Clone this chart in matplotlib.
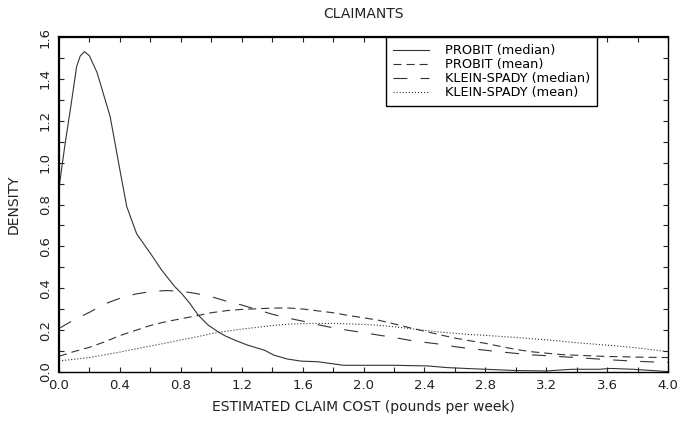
import matplotlib
matplotlib.use('Agg')
import matplotlib.pyplot as plt
from matplotlib.ticker import MultipleLocator

# PROBIT (median): solid line, own x grid (sharp peak near zero)
probit_med_x = [0.0, 0.04, 0.08, 0.116, 0.14, 0.167, 0.2, 0.25, 0.336, 0.40, 0.445,
                0.51, 0.6, 0.673, 0.76, 0.804, 0.859, 0.914, 0.98, 1.045, 1.09,
                1.155, 1.24, 1.35, 1.41, 1.5, 1.59, 1.70, 1.78, 1.87, 1.98, 2.2,
                2.42, 2.55, 2.7, 2.8, 3.0, 3.2, 3.37, 3.55, 3.62, 3.77, 4.0]
probit_med_y = [0.88, 1.09, 1.28, 1.46, 1.51, 1.53, 1.51, 1.43, 1.22, 0.965, 0.79,
                0.66, 0.567, 0.488, 0.408, 0.376, 0.328, 0.272, 0.224, 0.192, 0.173,
                0.152, 0.128, 0.104, 0.081, 0.062, 0.052, 0.049, 0.041, 0.032, 0.032, 0.032,
                0.029, 0.021, 0.016, 0.013, 0.007, 0.005, 0.013, 0.013, 0.017, 0.013, 0.002]

# the other three curves share one grid
grid_x = [0.0, 0.1, 0.2, 0.3, 0.4, 0.5, 0.6, 0.7, 0.8, 0.9, 1.0, 1.1, 1.2, 1.3,
          1.4, 1.5, 1.6, 1.7, 1.8, 1.9, 2.0, 2.1, 2.2, 2.3, 2.4, 2.5, 2.6, 2.7,
          2.8, 2.9, 3.0, 3.1, 3.2, 3.3, 3.4, 3.5, 3.6, 3.7, 3.8, 3.9, 4.0]
probit_mean_y = [0.075, 0.098, 0.118, 0.144, 0.174, 0.198, 0.222, 0.24, 0.254, 0.268,
                 0.283, 0.293, 0.299, 0.302, 0.305, 0.306, 0.301, 0.292, 0.283, 0.27,
                 0.259, 0.247, 0.23, 0.212, 0.195, 0.178, 0.162, 0.149, 0.137, 0.122,
                 0.108, 0.097, 0.09, 0.083, 0.08, 0.077, 0.074, 0.073, 0.071, 0.07, 0.069]
ks_med_y = [0.208, 0.25, 0.285, 0.325, 0.352, 0.372, 0.384, 0.389, 0.386, 0.375,
            0.36, 0.338, 0.32, 0.298, 0.276, 0.258, 0.243, 0.226, 0.211, 0.199,
            0.188, 0.176, 0.165, 0.152, 0.142, 0.133, 0.121, 0.112, 0.104, 0.096,
            0.089, 0.082, 0.078, 0.073, 0.069, 0.064, 0.059, 0.055, 0.051, 0.048, 0.046]
ks_mean_y = [0.053, 0.061, 0.069, 0.082, 0.095, 0.11, 0.124, 0.138, 0.153, 0.167,
             0.183, 0.195, 0.205, 0.213, 0.222, 0.228, 0.231, 0.232, 0.232, 0.23,
             0.227, 0.223, 0.216, 0.208, 0.199, 0.191, 0.185, 0.179, 0.175, 0.17,
             0.165, 0.159, 0.154, 0.147, 0.14, 0.134, 0.128, 0.122, 0.115, 0.106, 0.097]

plt.rcParams['font.family'] = ['DejaVu Sans']
plt.rcParams['lines.scale_dashes'] = False

fig = plt.figure(figsize=(6.78, 4.21), dpi=100)
ax = fig.add_axes([59 / 678, 49 / 421, 609 / 678, 335 / 421])

ink = '#333333'
ax.plot(probit_med_x, probit_med_y, color=ink, lw=0.8, label='PROBIT (median)')
ax.plot(grid_x, probit_mean_y, color=ink, lw=0.8, dashes=(5.8, 3.6), label='PROBIT (mean)')
ax.plot(grid_x, ks_med_y, color=ink, lw=0.8, dashes=(10, 9.5), label='KLEIN-SPADY (median)')
ax.plot(grid_x, ks_mean_y, color=ink, lw=0.8, dashes=(0.8, 1.4), label='KLEIN-SPADY (mean)')

ax.set_xlim(0, 4.0)
ax.set_ylim(0, 1.6)
ax.xaxis.set_major_locator(MultipleLocator(0.4))
ax.xaxis.set_minor_locator(MultipleLocator(0.2))
ax.yaxis.set_major_locator(MultipleLocator(0.2))
ax.yaxis.set_minor_locator(MultipleLocator(0.1))
ax.xaxis.set_major_formatter(lambda v, p: f'{v:.1f}')
ax.yaxis.set_major_formatter(lambda v, p: f'{v:.1f}')
ax.tick_params(which='both', direction='in', top=True, right=True, length=3.5,
               width=0.8, labelsize=9.5, colors='#222222', pad=5)
for lab in ax.get_yticklabels():
    lab.set_rotation(90)
    lab.set_va('center')
# first x label sits to the right of the corner
xl = ax.get_xticklabels()
xl[0].set_ha('left')

for side in ['left', 'top']:
    ax.spines[side].set_linewidth(1.6)
for side in ['right', 'bottom']:
    ax.spines[side].set_linewidth(1.0)

ax.set_title('CLAIMANTS', fontsize=10, color='#222222', pad=14)
ax.set_xlabel('ESTIMATED CLAIM COST (pounds per week)', fontsize=10, color='#222222', labelpad=6)
ax.set_ylabel('DENSITY', fontsize=10, color='#222222', labelpad=13)

leg = ax.legend(loc='upper left', bbox_to_anchor=(327 / 609, 1.0), fontsize=9.3,
                frameon=True, fancybox=False, edgecolor='black', framealpha=1,
                borderaxespad=0, handlelength=2.8, handletextpad=1.2,
                labelspacing=0.08, borderpad=0.55)
leg.get_frame().set_linewidth(1.0)

fig.savefig('out.png', dpi=100)
